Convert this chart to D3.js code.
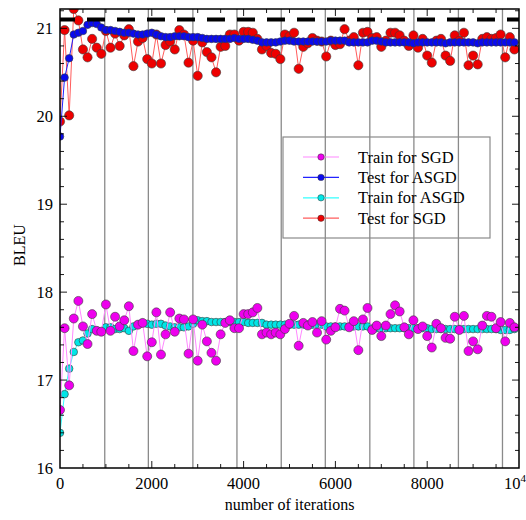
<!DOCTYPE html>
<html>
<head>
<meta charset="utf-8">
<script src="https://cdn.jsdelivr.net/npm/d3@7"></script>
<style>
  body { margin: 0; background: #fff; }
  svg { display: block; font-family: "Liberation Serif", "Times New Roman", serif; }
</style>
</head>
<body>
<div id="chart"></div>
<script>
// BLEU vs. number of iterations, one point every 100 iterations
const iterStep = 100;

const trainSGD = [
  16.66, 17.59, 16.94, 17.70, 17.90, 17.61, 17.41, 17.75, 17.56, 17.55,
  17.86, 17.56, 17.72, 17.61, 17.68, 17.84, 17.33, 17.63, 17.65, 17.27,
  17.43, 17.77, 17.29, 17.52, 17.77, 17.55, 17.70, 17.69, 17.30, 17.69,
  17.22, 17.63, 17.44, 17.31, 17.22, 17.52, 17.65, 17.68, 17.59, 17.59,
  17.75, 17.75, 17.77, 17.82, 17.52, 17.54, 17.52, 17.54, 17.52, 17.58,
  17.64, 17.73, 17.39, 17.65, 17.62, 17.66, 17.54, 17.67, 17.46, 17.56,
  17.60, 17.81, 17.79, 17.60, 17.67, 17.34, 17.69, 17.82, 17.57, 17.62,
  17.50, 17.62, 17.75, 17.85, 17.78, 17.60, 17.52, 17.68, 17.58, 17.61,
  17.50, 17.37, 17.64, 17.59, 17.48, 17.47, 17.72, 17.57, 17.73, 17.33,
  17.44, 17.35, 17.62, 17.73, 17.72, 17.59, 17.66, 17.44, 17.65, 17.60
];

const testASGD = [
  19.77, 20.44, 20.66, 20.93, 20.95, 20.97, 21.04, 21.06, 21.05, 21.01,
  20.98, 20.98, 20.97, 20.96, 20.95, 20.95, 20.94, 20.93, 20.93, 20.94,
  20.95, 20.93, 20.91, 20.90, 20.90, 20.91, 20.91, 20.91, 20.90, 20.90,
  20.90, 20.89, 20.88, 20.88, 20.88, 20.88, 20.88, 20.88, 20.89, 20.88,
  20.88, 20.88, 20.87, 20.86, 20.84, 20.84, 20.84, 20.84, 20.85, 20.86,
  20.86, 20.85, 20.85, 20.85, 20.85, 20.85, 20.85, 20.85, 20.85, 20.86,
  20.86, 20.86, 20.86, 20.84, 20.84, 20.84, 20.84, 20.84, 20.86, 20.86,
  20.85, 20.84, 20.84, 20.84, 20.84, 20.84, 20.84, 20.83, 20.84, 20.84,
  20.84, 20.84, 20.84, 20.84, 20.83, 20.84, 20.84, 20.84, 20.84, 20.84,
  20.84, 20.83, 20.84, 20.84, 20.84, 20.84, 20.84, 20.84, 20.84, 20.84
];

const trainASGD = [
  16.40, 16.84, 17.13, 17.32, 17.43, 17.45, 17.53, 17.58, 17.56, 17.55,
  17.60, 17.60, 17.58, 17.58, 17.59, 17.56, 17.61, 17.63, 17.65, 17.64,
  17.63, 17.64, 17.64, 17.62, 17.61, 17.60, 17.60, 17.60, 17.61, 17.64,
  17.68, 17.67, 17.67, 17.66, 17.66, 17.66, 17.66, 17.66, 17.66, 17.66,
  17.66, 17.65, 17.65, 17.65, 17.65, 17.63, 17.63, 17.63, 17.63, 17.63,
  17.63, 17.63, 17.63, 17.63, 17.63, 17.63, 17.63, 17.63, 17.61, 17.61,
  17.61, 17.61, 17.61, 17.61, 17.61, 17.61, 17.61, 17.61, 17.59, 17.59,
  17.59, 17.59, 17.59, 17.59, 17.59, 17.59, 17.59, 17.59, 17.59, 17.59,
  17.59, 17.58, 17.58, 17.58, 17.58, 17.58, 17.58, 17.58, 17.58, 17.58,
  17.58, 17.58, 17.58, 17.58, 17.58, 17.58, 17.57, 17.57, 17.57, 17.58
];

const testSGD = [
  19.94, 20.98, 20.01, 21.22, 21.09, 20.76, 20.67, 20.88, 20.78, 20.71,
  20.97, 20.78, 20.94, 20.80, 20.92, 20.99, 20.57, 20.85, 20.89, 20.65,
  20.60, 20.93, 20.60, 20.81, 20.85, 20.76, 20.98, 20.93, 20.61, 20.86,
  20.46, 20.84, 20.73, 20.67, 20.50, 20.79, 20.80, 20.93, 20.93, 20.86,
  20.96, 20.96, 20.95, 20.88, 20.76, 20.80, 20.72, 20.71, 20.65, 20.93,
  20.91, 20.95, 20.54, 20.79, 20.83, 20.89, 20.86, 20.85, 20.68, 20.86,
  20.81, 20.82, 20.99, 20.86, 20.90, 20.58, 20.95, 20.96, 20.89, 20.90,
  20.79, 20.86, 20.95, 20.95, 20.92, 20.86, 20.80, 20.92, 20.78, 20.88,
  20.69, 20.61, 20.86, 20.88, 20.69, 20.63, 20.92, 20.86, 20.95, 20.58,
  20.69, 20.59, 20.88, 20.90, 20.88, 20.89, 20.93, 20.67, 20.90, 20.76
];

// reference BLEU (dashed line) and vertical markers
const referenceBLEU = 21.10;
const epochMarks = [975, 1925, 2895, 3855, 4820, 5780, 6750, 7710, 8680, 9640];

const xTicks = [0, 2000, 4000, 6000, 8000, 10000];
const xTickLabels = ['0', '2000', '4000', '6000', '8000', '10'];
const yTicks = [16, 17, 18, 19, 20, 21];

const series = [
  { name: 'Train for SGD',  values: trainSGD,  fill: '#ee00ee', line: '#ff88ff', r: 4.5 },
  { name: 'Test for ASGD',  values: testASGD,  fill: '#0a0aee', line: '#2222ff', r: 3.8 },
  { name: 'Train for ASGD', values: trainASGD, fill: '#00e6e6', line: '#33ffff', r: 3.8 },
  { name: 'Test for SGD',   values: testSGD,   fill: '#ee0000', line: '#ff5c5c', r: 4.6 }
];
// drawing order (back to front)
const drawOrder = [3, 2, 0, 1];

const width = 526, height = 520;
const margin = { left: 60, right: 7, top: 9, bottom: 52 };

const svg = d3.select('#chart').append('svg')
  .attr('width', width)
  .attr('height', height);

const x = d3.scaleLinear()
  .domain([0, 10000])
  .range([margin.left, width - margin.right]);

const y = d3.scaleLinear()
  .domain([16, 21.22])
  .range([height - margin.bottom, margin.top]);

const [x0, x1] = x.range();
const [y0, y1] = y.range();

svg.append('defs').append('clipPath')
  .attr('id', 'plot-clip')
  .append('rect')
  .attr('x', x0).attr('y', y1)
  .attr('width', x1 - x0).attr('height', y0 - y1);

// Vertical marker lines
svg.append('g')
  .selectAll('line')
  .data(epochMarks)
  .join('line')
  .attr('x1', d => x(d)).attr('x2', d => x(d))
  .attr('y1', y0).attr('y2', y1)
  .attr('stroke', '#8a8a8a')
  .attr('stroke-width', 1.3);

// Legend box (drawn behind points, transparent)
const legend = svg.append('g');
legend.append('rect')
  .attr('x', 283).attr('y', 137)
  .attr('width', 207).attr('height', 101)
  .attr('fill', 'none')
  .attr('stroke', '#8a8a8a')
  .attr('stroke-width', 1.2);

series.forEach((s, i) => {
  const ly = 157 + i * 20.4;
  legend.append('line')
    .attr('x1', 303).attr('x2', 339)
    .attr('y1', ly).attr('y2', ly)
    .attr('stroke', s.line)
    .attr('stroke-width', 1.2);
  legend.append('circle')
    .attr('cx', 321).attr('cy', ly)
    .attr('r', 3.2)
    .attr('fill', s.fill)
    .attr('stroke', '#333')
    .attr('stroke-width', 0.5);
  legend.append('text')
    .attr('x', 358).attr('y', ly + 5.5)
    .attr('font-size', 16.5)
    .attr('fill', '#000')
    .text(s.name);
});

// Series
const plot = svg.append('g').attr('clip-path', 'url(#plot-clip)');

const line = d3.line()
  .x((d, i) => x(i * iterStep))
  .y(d => y(d));

drawOrder.forEach(k => {
  const s = series[k];
  const g = plot.append('g');
  g.append('path')
    .datum(s.values)
    .attr('d', line)
    .attr('fill', 'none')
    .attr('stroke', s.line)
    .attr('stroke-width', 1);
  g.selectAll('circle')
    .data(s.values)
    .join('circle')
    .attr('cx', (d, i) => x(i * iterStep))
    .attr('cy', d => y(d))
    .attr('r', s.r)
    .attr('fill', s.fill)
    .attr('stroke', '#3a3a3a')
    .attr('stroke-width', 0.6);
});

// Reference dashed line
svg.append('line')
  .attr('x1', x0).attr('x2', x1)
  .attr('y1', y(referenceBLEU)).attr('y2', y(referenceBLEU))
  .attr('stroke', '#000')
  .attr('stroke-width', 4)
  .attr('stroke-dasharray', '18,12')
  .attr('stroke-dashoffset', 3);

// Axes: ticks pointing inwards on all four sides
const axes = svg.append('g').attr('stroke', '#000');
const xMinor = d3.range(500, 10000, 500).filter(v => v % 2000 !== 0);
const yMinor = d3.range(16.2, 21.21, 0.2).filter(v => Math.abs(v - Math.round(v)) > 0.01);

function tickLines(vals, len, horizontal) {
  vals.forEach(v => {
    if (horizontal) {
      const px = x(v);
      axes.append('line').attr('x1', px).attr('x2', px).attr('y1', y0).attr('y2', y0 - len);
      axes.append('line').attr('x1', px).attr('x2', px).attr('y1', y1).attr('y2', y1 + len);
    } else {
      const py = y(v);
      axes.append('line').attr('x1', x0).attr('x2', x0 + len).attr('y1', py).attr('y2', py);
      axes.append('line').attr('x1', x1).attr('x2', x1 - len).attr('y1', py).attr('y2', py);
    }
  });
}
axes.attr('stroke-width', 0.9);
tickLines(xTicks.slice(1, -1), 7, true);
tickLines(xMinor, 4, true);
tickLines(yTicks.slice(1), 7, false);
tickLines(yMinor, 4, false);

svg.append('rect')
  .attr('x', x0).attr('y', y1)
  .attr('width', x1 - x0).attr('height', y0 - y1)
  .attr('fill', 'none')
  .attr('stroke', '#000')
  .attr('stroke-width', 1.5);

// Tick labels
const xLabels = svg.append('g')
  .attr('font-size', 16.5)
  .attr('text-anchor', 'middle');
xTicks.forEach((v, i) => {
  const t = xLabels.append('text')
    .attr('x', i === xTicks.length - 1 ? x(v) - 4 : x(v))
    .attr('y', 489)
    .text(xTickLabels[i]);
  if (i === xTicks.length - 1) {
    t.append('tspan')
      .attr('font-size', 11)
      .attr('dy', -7)
      .text('4');
  }
});

svg.append('g')
  .attr('font-size', 16.5)
  .attr('text-anchor', 'end')
  .selectAll('text')
  .data(yTicks)
  .join('text')
  .attr('x', 53)
  .attr('y', d => y(d) + 5.5)
  .text(d => d);

// Axis titles
svg.append('text')
  .attr('x', (x0 + x1) / 2)
  .attr('y', 510)
  .attr('text-anchor', 'middle')
  .attr('font-size', 16)
  .text('number of iterations');

svg.append('text')
  .attr('transform', 'translate(25, 245) rotate(-90)')
  .attr('text-anchor', 'middle')
  .attr('font-size', 16)
  .text('BLEU');
</script>
</body>
</html>
